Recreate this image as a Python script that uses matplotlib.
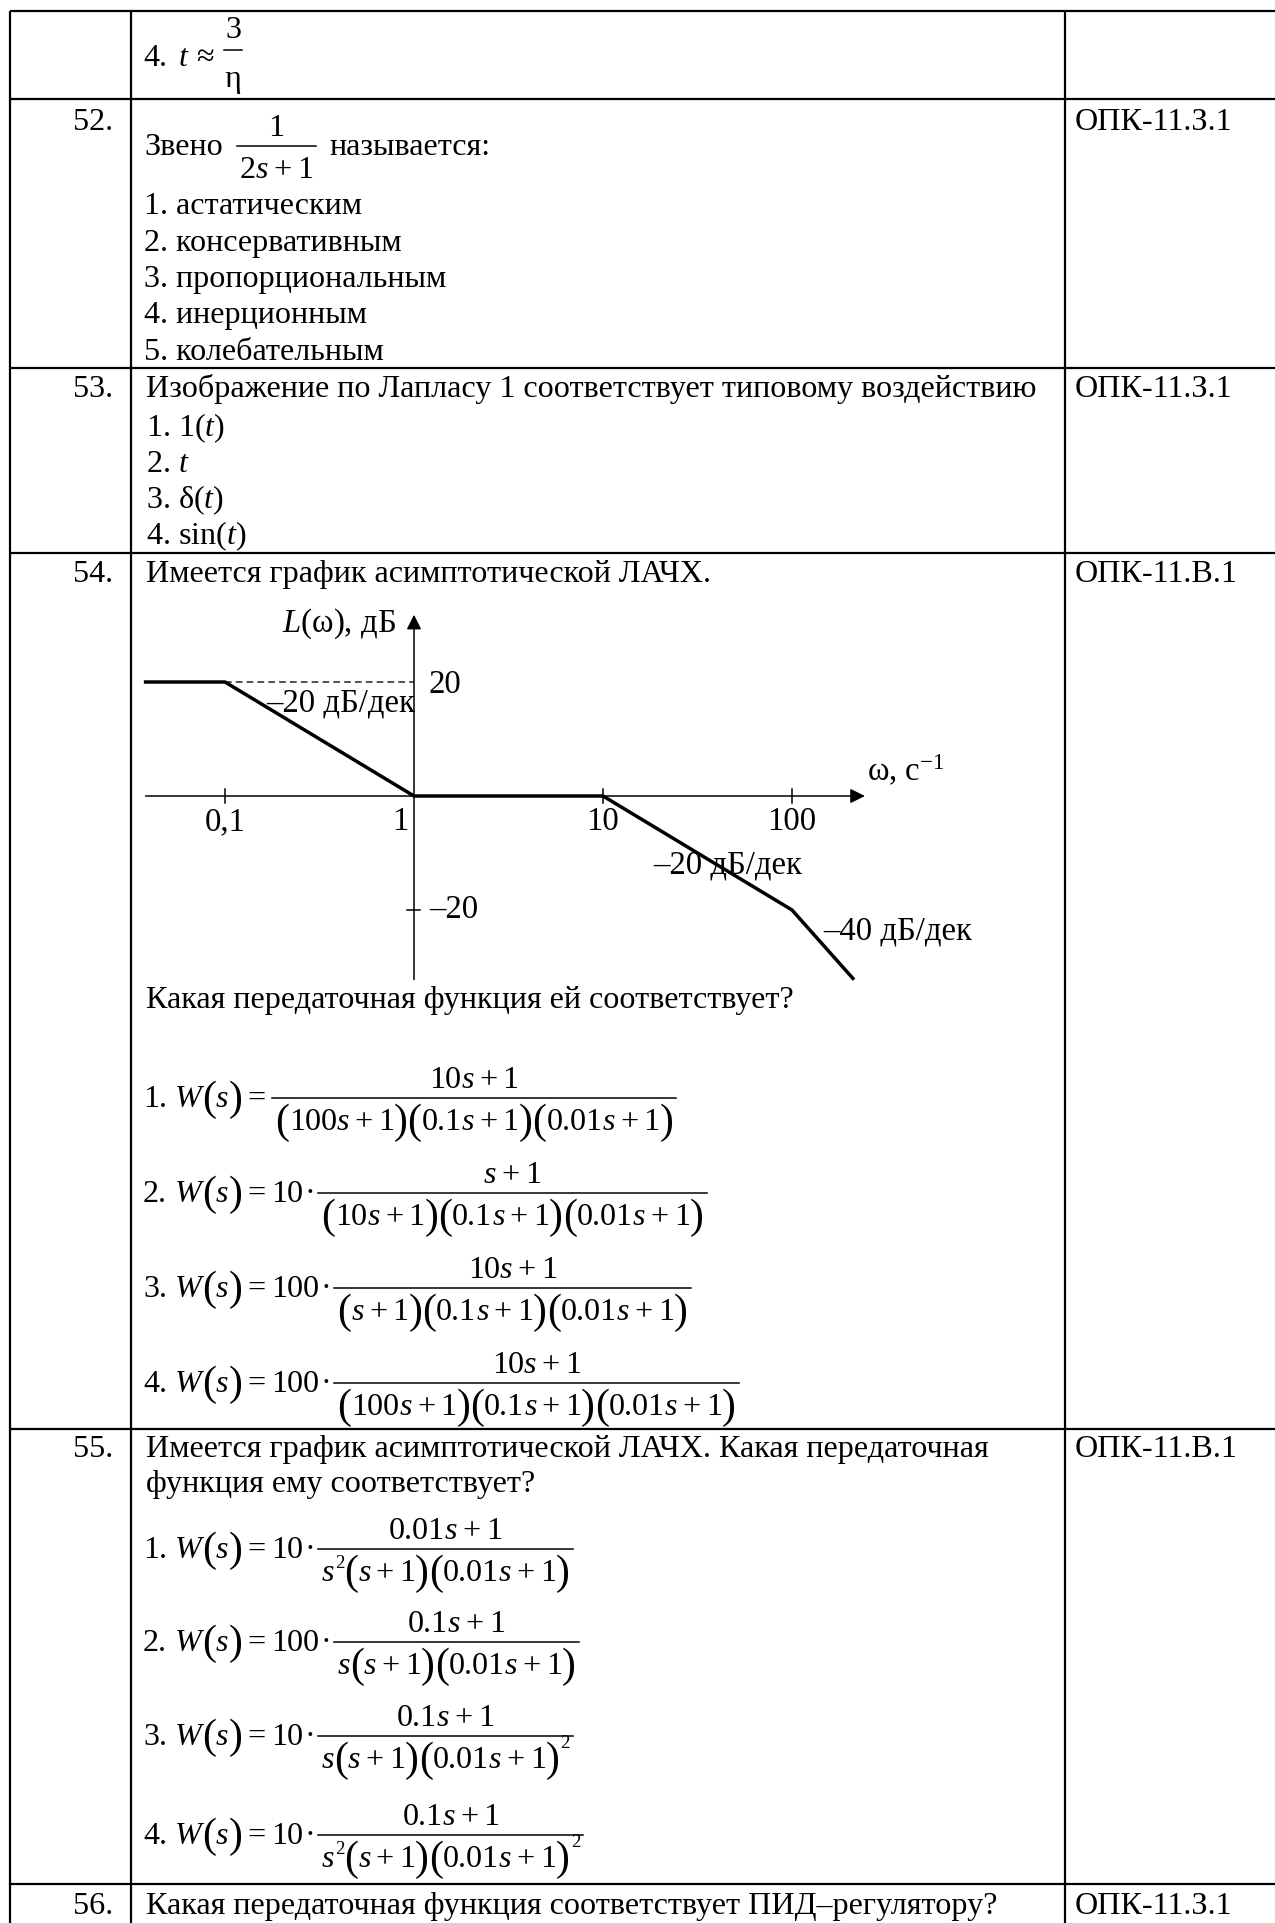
import matplotlib
matplotlib.use('Agg')
import matplotlib.pyplot as plt
import numpy as np

SERIF = 'Liberation Serif'
plt.rcParams['font.family'] = [SERIF, 'DejaVu Serif']
plt.rcParams['mathtext.fontset'] = 'custom'
plt.rcParams['mathtext.rm'] = SERIF
plt.rcParams['mathtext.it'] = SERIF + ':italic'

# ЛАЧХ (асимптотическая) для вопроса 54
omega = [0.038, 0.1, 1, 10, 100, 210]
L_db = [20, 20, 0, 0, -20, -32]
tick_omega = [0.1, 1, 10, 100]
tick_labels = ['0,1', '1', '10', '100']
slope_labels = ['–20 дБ/дек', '–20 дБ/дек', '–40 дБ/дек']

# текст таблицы
nums = ['52.', '53.', '54.', '55.', '56.']
codes = ['ОПК-11.З.1', 'ОПК-11.З.1', 'ОПК-11.В.1', 'ОПК-11.В.1', 'ОПК-11.З.1']
q52_items = ['1. астатическим', '2. консервативным', '3. пропорциональным',
             '4. инерционным', '5. колебательным']
q53_title = 'Изображение по Лапласу 1 соответствует типовому воздействию'
q53_items = ['1. 1($t$)', '2. $t$', '3. δ($t$)', '4. sin($t$)']
q54_title = 'Имеется график асимптотической ЛАЧХ.'
q54_ask = 'Какая передаточная функция ей соответствует?'
q54_opts = [('1', '', '10s+1', '(100s+1)(0.1s+1)(0.01s+1)'),
            ('2', '10', 's+1', '(10s+1)(0.1s+1)(0.01s+1)'),
            ('3', '100', '10s+1', '(s+1)(0.1s+1)(0.01s+1)'),
            ('4', '100', '10s+1', '(100s+1)(0.1s+1)(0.01s+1)')]
q55_lines = ['Имеется график асимптотической ЛАЧХ. Какая передаточная',
             'функция ему соответствует?']
q55_opts = [('1', '10', '0.01s+1', 's^2(s+1)(0.01s+1)'),
            ('2', '100', '0.1s+1', 's(s+1)(0.01s+1)'),
            ('3', '10', '0.1s+1', 's(s+1)(0.01s+1)^2'),
            ('4', '10', '0.1s+1', 's^2(s+1)(0.01s+1)^2')]
q56_title = 'Какая передаточная функция соответствует ПИД–регулятору?'

W, H = 1275, 1923
FS = 23.1
EM = FS * 100 / 72

fig = plt.figure(figsize=(W / 100, H / 100), dpi=100)
ax = fig.add_axes([0, 0, 1, 1])
ax.set_xlim(0, W)
ax.set_ylim(H, 0)
ax.axis('off')
R = fig.canvas.get_renderer()


def put(x, y, s, size=FS, style='normal', **kw):
    return ax.text(x, y, s, fontsize=size, style=style, va='baseline', **kw)


def wid(t):
    return t.get_window_extent(R).width


def run(x, y, expr, size=FS, opgap=0.16):
    em = size * 100 / 72
    arts = []
    i = 0
    while i < len(expr):
        c = expr[i]
        if c == '^':
            big = expr[i - 1] == ')'
            t = put(x + 1, y - (0.62 if big else 0.42) * em, expr[i + 1], size * 0.58)
            x += wid(t) + 1
            arts.append(t)
            i += 2
            continue
        if c in '()':
            t = put(x, y + 0.1 * em, c, size * 1.3)
            x += wid(t)
        elif c in 'sWt':
            t = put(x, y, c, size, 'italic')
            x += wid(t)
        elif c in '+=≈':
            x += opgap * em
            t = put(x, y, c, size)
            x += wid(t) + opgap * em
        elif c == '·':
            x += 0.06 * em
            t = put(x, y, c, size)
            x += wid(t) + 0.06 * em
        else:
            j = i
            while j < len(expr) and expr[j] in '0123456789.':
                j += 1
            j = max(j, i + 1)
            t = put(x, y, expr[i:j], size)
            x += wid(t)
            i = j
            arts.append(t)
            continue
        arts.append(t)
        i += 1
    return x, arts


def frac(x, yb, num, den, pad=3, dn=32, up=10):
    xe, _ = run(x + pad, yb + dn, den)
    blen = xe - x + pad
    ax.plot([x, x + blen], [yb, yb], color='k', lw=1.1)
    wn, arts = run(0, yb - up, num)
    shift = x + blen / 2 - wn / 2
    for a in arts:
        a.set_x(a.get_position()[0] + shift)
    return x + blen


def formula(yb, n, coef, num, den):
    t = put(143, yb + 9, n + '.')
    x = 143 + wid(t) + 0.25 * EM
    x, _ = run(x, yb + 9, 'W(s)=' + (coef + '·' if coef else ''))
    frac(x + 1, yb, num, den)


# таблица
C2 = 1065
rows_y = [11, 99, 368, 553, 1429, 1884]
for y in rows_y:
    ax.plot([10, W], [y, y], color='k', lw=1.6, solid_capstyle='butt')
for x in [10, 131, C2]:
    ax.plot([x, x], [11, H], color='k', lw=1.6, solid_capstyle='butt')

# строка 51 (окончание)
t = put(143, 66, '4.')
x, _ = run(143 + wid(t) + 12, 66, 't≈', opgap=0.25)
frac(x + 2, 50, '3', 'η', pad=1, dn=37, up=12)

# номера и коды
num_y = [130, 397, 582, 1457, 1914]
for n, c, y in zip(nums, codes, num_y):
    put(113, y, n, ha='right')
    put(C2 + 10, y, c)

# 52
t = put(144, 155, 'Звено')
xe = frac(144 + wid(t) + 14, 146, '1', '2s+1', pad=3)
put(xe + 14, 155, 'называется:')
for k, s in enumerate(q52_items):
    put(144, 214 + 36.5 * k, s)

# 53
put(146, 397, q53_title)
for k, s in enumerate(q53_items):
    put(146, 436 + 36 * k, s)

# 54
put(146, 582, q54_title)
put(146, 1008, q54_ask)
for yb, opt in zip([1098, 1193, 1288, 1383], q54_opts):
    formula(yb, *opt)

# 55
for k, s in enumerate(q55_lines):
    put(146, 1457 + 35 * k, s)
for yb, opt in zip([1549, 1642, 1736, 1835], q55_opts):
    formula(yb, *opt)

# 56
put(146, 1914, q56_title)

# график ЛАЧХ
dec_px, x1_px, y0_px, db_px = 189.0, 414.0, 796.0, 5.7
xlim = (0.033, 260)
ylim = (-35, 33)
lp = x1_px + dec_px * np.log10(xlim[0])
rp = x1_px + dec_px * np.log10(xlim[1])
tp = y0_px - db_px * ylim[1]
bp = y0_px - db_px * ylim[0]
cax = fig.add_axes([lp / W, 1 - bp / H, (rp - lp) / W, (bp - tp) / H])
cax.set_xscale('log')
cax.set_xlim(*xlim)
cax.set_ylim(*ylim)
cax.axis('off')

arrow = dict(arrowstyle='-|>', color='k', lw=1.1, mutation_scale=22, shrinkA=0, shrinkB=0)
cax.annotate('', xy=(243, 0), xytext=(0.038, 0), arrowprops=arrow)
cax.annotate('', xy=(1, 31.8), xytext=(1, -32.2), arrowprops=arrow)
cax.plot([0.1, 1], [20, 20], color='#333333', lw=1.2, dashes=(4, 2.5))
cax.plot(omega, L_db, color='k', lw=2.5, solid_joinstyle='miter')
for w in tick_omega:
    if w != 1:
        cax.plot([w, w], [-1.2, 1.2], color='k', lw=1.1)
cax.plot([0.92, 1.08], [-20, -20], color='k', lw=1.1)

CF = 23.6
for w, s in zip(tick_omega, tick_labels):
    if w == 1:
        cax.text(0.93, -4.6, s, fontsize=CF, ha='right', va='center')
    else:
        cax.text(w, -4.6, s, fontsize=CF, ha='center', va='center')
cax.text(1.2, 19.6, '20', fontsize=CF, ha='left', va='center')
cax.text(1.2, -20, '–20', fontsize=CF, ha='left', va='center')
cax.text(0.8, 30.2, '$L$(ω), дБ', fontsize=CF, ha='right', va='center')
cax.text(250, 4.4, 'ω, с$^{-1}$', fontsize=CF, ha='left', va='center')
for s, (w, l) in zip(slope_labels, [(0.165, 16.3), (18.4, -12.2), (146, -23.8)]):
    cax.text(w, l, s, fontsize=CF, ha='left', va='center')

fig.savefig('out.png', dpi=100, facecolor='white')
